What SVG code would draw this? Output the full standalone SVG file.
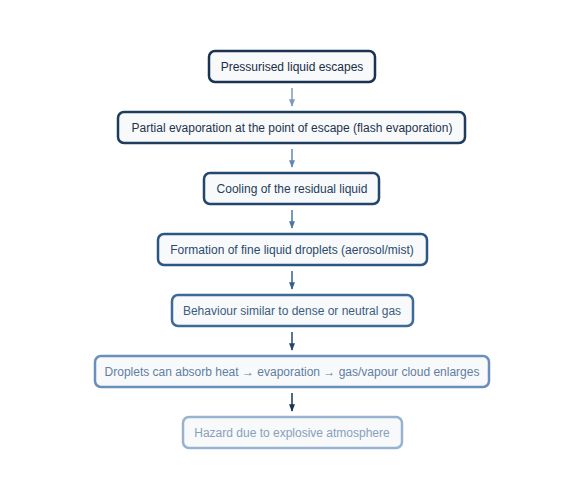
<svg xmlns="http://www.w3.org/2000/svg" width="585" height="500" viewBox="0 0 585 500">
<style>
text{font-family:"Liberation Sans",Arial,sans-serif;font-size:12px;text-anchor:middle;dominant-baseline:central}
rect{stroke-width:2.5;rx:6;ry:6;fill:#f8f9fa}
.c line{stroke-width:1.5}
</style>
<defs>
<marker id="a1" viewBox="0 0 10 10" refX="9" refY="5" markerWidth="5" markerHeight="5" orient="auto"><path d="M0,1 L10,5 L0,9 z" fill="#7a9cc2"/></marker>
<marker id="a2" viewBox="0 0 10 10" refX="9" refY="5" markerWidth="5" markerHeight="5" orient="auto"><path d="M0,1 L10,5 L0,9 z" fill="#6189b3"/></marker>
<marker id="a3" viewBox="0 0 10 10" refX="9" refY="5" markerWidth="5" markerHeight="5" orient="auto"><path d="M0,1 L10,5 L0,9 z" fill="#4a77a5"/></marker>
<marker id="a4" viewBox="0 0 10 10" refX="9" refY="5" markerWidth="5" markerHeight="5" orient="auto"><path d="M0,1 L10,5 L0,9 z" fill="#34608e"/></marker>
<marker id="a5" viewBox="0 0 10 10" refX="9" refY="5" markerWidth="5" markerHeight="5" orient="auto"><path d="M0,1 L10,5 L0,9 z" fill="#234870"/></marker>
<marker id="a6" viewBox="0 0 10 10" refX="9" refY="5" markerWidth="5" markerHeight="5" orient="auto"><path d="M0,1 L10,5 L0,9 z" fill="#1a3352"/></marker>
</defs>
<g class="c" id="connectors">
<line x1="292" y1="88" x2="292" y2="106" stroke="#7a9cc2" marker-end="url(#a1)"/>
<line x1="292" y1="149" x2="292" y2="167" stroke="#6189b3" marker-end="url(#a2)"/>
<line x1="292" y1="210" x2="292" y2="228" stroke="#4a77a5" marker-end="url(#a3)"/>
<line x1="292" y1="271" x2="292" y2="289" stroke="#34608e" marker-end="url(#a4)"/>
<line x1="292" y1="332" x2="292" y2="350" stroke="#234870" marker-end="url(#a5)"/>
<line x1="292" y1="393" x2="292" y2="411" stroke="#1a3352" marker-end="url(#a6)"/>
</g>
<g id="n1"><rect x="209" y="51" width="166" height="31" stroke="#1a3352"/><text x="292" y="67" fill="#1a2d45">Pressurised liquid escapes</text></g>
<g id="n2"><rect x="118" y="112" width="347" height="31" stroke="#1e3c5e"/><text x="292" y="128" fill="#1e3350">Partial evaporation at the point of escape (flash evaporation)</text></g>
<g id="n3"><rect x="204" y="173" width="175" height="31" stroke="#22466c"/><text x="292" y="189" fill="#223d5c">Cooling of the residual liquid</text></g>
<g id="n4"><rect x="158" y="234" width="269" height="31" stroke="#2a5684"/><text x="292" y="250" fill="#2a4a6e">Formation of fine liquid droplets (aerosol/mist)</text></g>
<g id="n5"><rect x="172" y="295" width="241" height="31" stroke="#3e6a98"/><text x="292" y="311" fill="#3a5d82">Behaviour similar to dense or neutral gas</text></g>
<g id="n6"><rect x="95" y="356" width="394" height="31" stroke="#6a8fba"/><text x="292" y="372" fill="#5f7ea2">Droplets can absorb heat → evaporation → gas/vapour cloud enlarges</text></g>
<g id="n7"><rect x="183" y="417" width="219" height="31" stroke="#98b3d0"/><text x="292" y="433" fill="#86a0bd">Hazard due to explosive atmosphere</text></g>
</svg>
